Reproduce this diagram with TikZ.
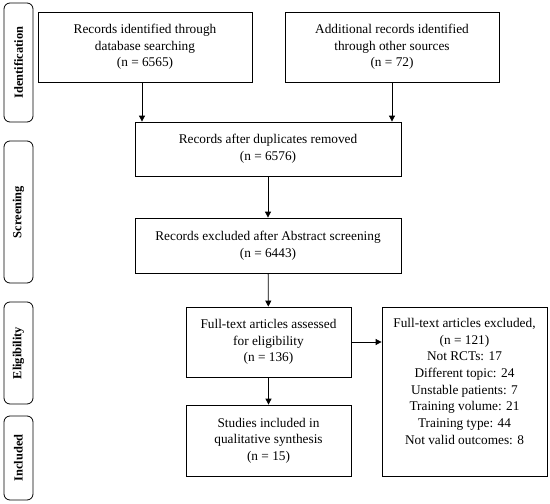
\documentclass[tikz,border=0pt]{standalone}
\usepackage{fontspec}
\setmainfont{Liberation Serif}
\usetikzlibrary{arrows.meta}
\begin{document}
\begin{tikzpicture}[x=1pt,y=-1pt,
  box/.style={draw, line width=0.8pt, align=center, font=\fontsize{13.3}{16.6}\selectfont, inner sep=0pt},
  phase/.style={draw, line width=0.8pt, rounded corners=6pt},
  plabel/.style={rotate=90, font=\bfseries\fontsize{12.4}{13}\selectfont},
  arr/.style={-{Triangle[length=6pt,width=6pt]}, line width=0.8pt}]
\useasboundingbox (0,0) rectangle (550,504);
% phase boxes
\draw[phase] (4,3) rectangle (33,122);
\node[plabel] (pid) at (18.5,62.5) {Identification};
\draw[phase] (4,141) rectangle (33,283);
\node[plabel] (psc) at (18.5,212) {Screening};
\draw[phase] (4,302) rectangle (33,404);
\node[plabel] (pel) at (18.5,353) {Eligibility};
\draw[phase] (4,416) rectangle (33,500);
\node[plabel] (pin) at (18.5,458) {Included};
% boxes
\node[box, minimum width=214pt, minimum height=70pt] (b1) at (145,47) {Records identified through\\database searching\\(n = 6565)};
\node[box, minimum width=214pt, minimum height=70pt] (b2) at (392,47) {Additional records identified\\through other sources\\(n = 72)};
\node[box, minimum width=266pt, minimum height=54pt] (b3) at (268,149) {Records after duplicates removed\\(n = 6576)};
\node[box, minimum width=266pt, minimum height=55pt] (b4) at (268,245.5) {Records excluded after Abstract screening\\(n = 6443)};
\node[box, minimum width=165pt, minimum height=70pt] (b5) at (268.5,342) {Full-text articles assessed\\for eligibility\\(n = 136)};
\node[box, minimum width=165pt, minimum height=71pt] (b6) at (268.5,440.5) {Studies included in\\qualitative synthesis\\(n = 15)};
\node[box, minimum width=165pt, minimum height=169pt, anchor=north] (b7) at (464.5,307) {};
\node[align=center, font=\fontsize{13.3}{16.7}\selectfont, anchor=north, inner sep=0pt] (b7t) at (464.5,318) {Full-text articles excluded,\\(n = 121)\\Not RCTs: 17\\Different topic: 24\\Unstable patients: 7\\Training volume: 21\\Training type: 44\\Not valid outcomes: 8};
% arrows
\draw[arr] (b1.south -| 142,0) -- (b3.north -| 142,0);
\draw[arr] (b2.south) -- (b3.north -| b2.south);
\draw[arr] (b3) -- (b4);
\draw[arr] (b4) -- (b5);
\draw[arr] (b5) -- (b6);
\draw[arr] (b5.east) -- (b7.west |- b5.east);
\end{tikzpicture}
\end{document}
